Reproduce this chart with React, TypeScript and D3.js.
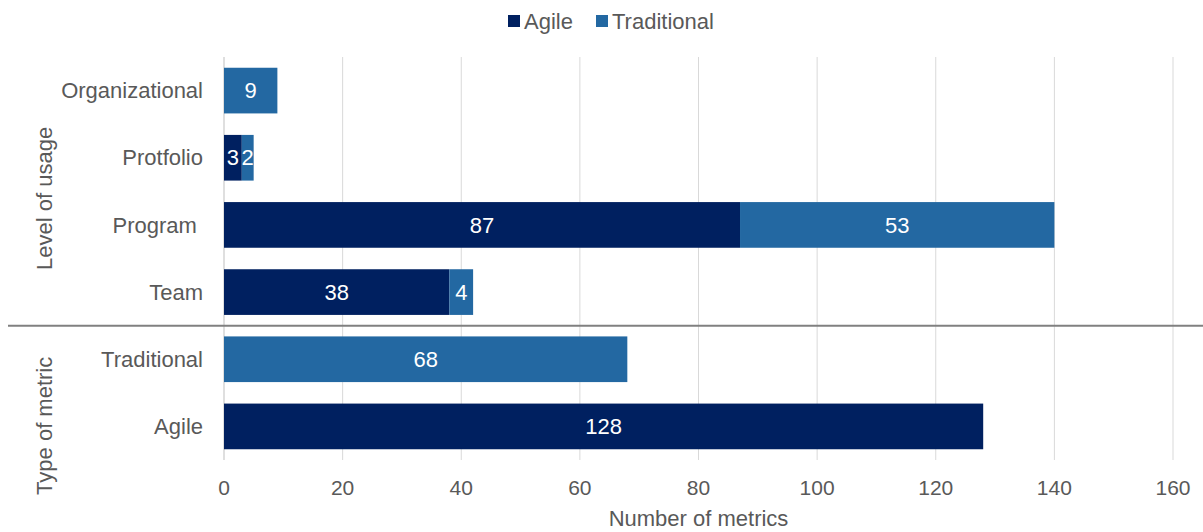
import React from "react";
import * as d3 from "d3";

const categories = ["Organizational", "Protfolio", "Program ", "Team", "Traditional", "Agile"];
const agileValues = [0, 3, 87, 38, 0, 128];
const traditionalValues = [9, 2, 53, 4, 68, 0];
const seriesNames = ["Agile", "Traditional"];
const xTicks = [0, 20, 40, 60, 80, 100, 120, 140, 160];
const groupLabels = ["Level of usage", "Type of metric"];

const W = 1203;
const H = 532;
const colors: Record<string, string> = { Agile: "#002060", Traditional: "#2368A2" };
const textColor = "#595959";
const font = "'Liberation Sans', Arial, sans-serif";

export default function App() {
  const left = 224;
  const right = 1173;
  const top = 57;
  const bottom = 460;
  const x = d3.scaleLinear().domain([0, 160]).range([left, right]);
  const y = d3.scaleBand<string>().domain(categories).range([top, bottom]).paddingInner(0.32).paddingOuter(0.16);

  const rows = categories.map((c, i) => ({ cat: c, Agile: agileValues[i], Traditional: traditionalValues[i] }));
  const stack = d3.stack<any>().keys(seriesNames)(rows);

  const sepY = (y(categories[3])! + y.bandwidth() + y(categories[4])!) / 2;
  const groupCenters = [(top + sepY) / 2 + 7, (sepY + H) / 2 - 3];

  return (
    <svg width={W} height={H} style={{ position: "absolute", left: 0, top: 0 }} fontFamily={font}>
      <rect width={W} height={H} fill="#fff" />
      {xTicks.map((t) => (
        <line key={t} x1={x(t)} x2={x(t)} y1={top} y2={bottom} stroke={t === 0 ? "#bfbfbf" : "#d9d9d9"} strokeWidth={1} />
      ))}
      {stack.map((s) =>
        s.map((d, i) => {
          const w = x(d[1]) - x(d[0]);
          if (w <= 0) return null;
          const v = d[1] - d[0];
          return (
            <g key={s.key + i}>
              <rect x={x(d[0])} y={y(categories[i])} width={w} height={y.bandwidth()} fill={colors[s.key]} />
              <text
                x={(x(d[0]) + x(d[1])) / 2}
                y={y(categories[i])! + y.bandwidth() / 2}
                dy="0.35em"
                textAnchor="middle"
                fill="#fff"
                fontSize={22}
              >
                {v}
              </text>
            </g>
          );
        })
      )}
      {categories.map((c) => (
        <text
          key={c}
          x={203}
          y={y(c)! + y.bandwidth() / 2}
          dy="0.35em"
          textAnchor="end"
          fill={textColor}
          fontSize={22}
          style={{ whiteSpace: "pre" }}
        >
          {c}
        </text>
      ))}
      <line x1={8} x2={W} y1={sepY} y2={sepY} stroke="#808080" strokeWidth={2} />
      {groupLabels.map((g, i) => (
        <text
          key={g}
          transform={`translate(44,${groupCenters[i]}) rotate(-90)`}
          dy="0.35em"
          textAnchor="middle"
          fill={textColor}
          fontSize={22}
        >
          {g}
        </text>
      ))}
      {xTicks.map((t) => (
        <text key={t} x={x(t)} y={488} dy="0.35em" textAnchor="middle" fill={textColor} fontSize={21}>
          {t}
        </text>
      ))}
      <text x={(left + right) / 2} y={518} dy="0.35em" textAnchor="middle" fill={textColor} fontSize={22}>
        Number of metrics
      </text>
      <g>
        <rect x={508} y={15} width={12} height={12} fill={colors.Agile} />
        <text x={524} y={21} dy="0.35em" fill={textColor} fontSize={22}>Agile</text>
        <rect x={596} y={15} width={12} height={12} fill={colors.Traditional} />
        <text x={612} y={21} dy="0.35em" fill={textColor} fontSize={22}>Traditional</text>
      </g>
    </svg>
  );
}
